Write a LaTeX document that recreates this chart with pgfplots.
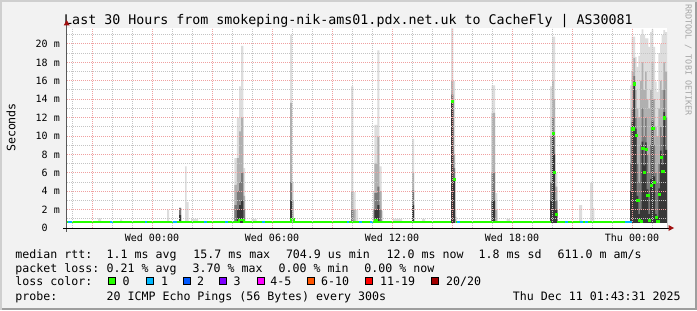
\documentclass[border=0pt]{standalone}
\usepackage{pgfplots}
\pgfplotsset{compat=1.18}
\usepackage{fontspec}
\setmainfont{DejaVu Sans Mono}
\setmonofont{DejaVu Sans Mono}
\definecolor{bgc}{HTML}{F2F2F2}
\definecolor{shadea}{HTML}{CFCFCF}
\definecolor{shadeb}{HTML}{9E9E9E}
\definecolor{mgrid}{HTML}{F0A0A0}
\definecolor{ngrid}{HTML}{C4C4C4}
\definecolor{arrowred}{HTML}{A01010}
\definecolor{sA}{HTML}{DDDDDD}
\definecolor{sB}{HTML}{B0B0B0}
\definecolor{sC}{HTML}{7A7A7A}
\definecolor{sD}{HTML}{383838}
\definecolor{lc0}{HTML}{26FF00}
\definecolor{lc1}{HTML}{00B8FF}
\definecolor{lc2}{HTML}{0059FF}
\definecolor{lc3}{HTML}{7E00FF}
\definecolor{lc4}{HTML}{FF00FF}
\definecolor{lc6}{HTML}{FF5500}
\definecolor{lc11}{HTML}{FF0000}
\definecolor{lc20}{HTML}{A10000}
\newcommand\fs[1]{\fontsize{#1bp}{#1bp}\selectfont}
\begin{document}
\frenchspacing
\begin{tikzpicture}[x=1bp,y=1bp]
\path[use as bounding box] (0,0) rectangle (697,310);
\fill[bgc] (0,0) rectangle (697,310);
\fill[shadea] (0,0) rectangle (2,310);
\fill[shadea] (0,308) rectangle (697,310);
\fill[shadeb] (695,0) rectangle (697,308);
\fill[shadeb] (2,0) rectangle (697,2);

\node[anchor=base, inner sep=0pt] at (348.5,286) {\fs{13.3}Last 30 Hours from smokeping-nik-ams01.pdx.net.uk to CacheFly | AS30081};

\begin{axis}[
  at={(67bp,82bp)}, anchor=south west, scale only axis,
  width=600bp, height=200bp,
  xmin=-4.25, xmax=25.75, ymin=0, ymax=21.739,
  axis background/.style={fill=white},
  axis line style={draw=none},
  tick style={draw=none},
  axis on top,
  grid=both,
  major grid style={mgrid, line width=1bp, dash pattern=on 1bp off 1bp},
  minor grid style={ngrid, line width=1bp, dash pattern=on 1bp off 1bp},
  xtick={-3,0,3,6,9,12,15,18,21,24},
  xticklabels={{},Wed 00:00,{},Wed 06:00,{},Wed 12:00,{},Wed 18:00,{},Thu 00:00},
  minor xtick={-4,-2,-1,1,2,4,5,7,8,10,11,13,14,16,17,19,20,22,23,25},
  ytick={0,2,4,6,8,10,12,14,16,18,20},
  yticklabels={0\hphantom{\ m},2 m,4 m,6 m,8 m,10 m,12 m,14 m,16 m,18 m,20 m},
  minor ytick={1,3,5,7,9,11,13,15,17,19,21},
  ticklabel style={font=\fs{10}},
  xticklabel style={anchor=base, inner sep=0pt, yshift=-13bp},
  yticklabel style={anchor=east, inner sep=0pt, xshift=-7bp},
]
% lightest smoke (max)
\addplot[const plot, fill=sA, draw=none] coordinates {
(-4.25,0)(-2.7,1.05)(-2.55,0)(-1.6,0.95)(-1.5,0)
(0.75,2.0)(0.85,0)(1.35,2.2)(1.45,0)(1.65,6.7)(1.73,2.8)(1.83,0)(1.95,1.0)(2.3,0)
(4.12,7.6)(4.24,12.0)(4.35,15.4)(4.45,19.8)(4.57,6.5)(4.65,0)(4.98,1.0)(5.23,0)
(6.9,21.0)(7.0,5.0)(7.08,0)
(9.95,15.4)(10.07,3.9)(10.18,2.0)(10.3,0)
(11.05,4.0)(11.12,11.2)(11.27,19.3)(11.37,6.7)(11.48,1.9)(11.55,0)
(12.05,1.0)(12.5,0)(13.0,9.7)(13.1,0)(13.5,1.0)(13.65,0)
(14.95,21.7)(15.07,16.0)(15.16,2.0)(15.22,0)
(16.98,15.5)(17.15,3.8)(17.27,0)(17.73,1.0)(17.9,0)
(19.9,15.4)(20.0,20.8)(20.08,20.8)(20.16,6.0)(20.27,0)
(21.35,2.5)(21.5,0)(21.9,4.9)(22.05,2.2)(22.12,0)
(23.900,15.5)(23.983,20.8)(24.067,20.8)(24.150,18.6)(24.233,17.5)(24.317,18.7)(24.400,21.0)(24.483,21.6)(24.567,21.0)(24.650,20.6)(24.733,20.6)(24.817,19.7)(24.900,21.3)(24.983,21.6)(25.067,19.7)(25.150,15.9)(25.233,14.8)(25.317,19.0)(25.400,20.0)(25.483,21.0)(25.567,21.5)(25.650,21.3)(25.75,0)
} \closedcycle;
% mid smoke
\addplot[const plot, fill=sB, draw=none] coordinates {
(-4.25,0)(1.35,2.2)(1.45,0)
(4.12,4.7)(4.24,7.6)(4.35,10.5)(4.45,12.0)(4.57,3.5)(4.65,0)
(6.9,13.6)(7.0,3.0)(7.08,0)
(9.95,4.0)(10.07,2.0)(10.18,0)
(11.05,2.0)(11.12,7.0)(11.27,9.9)(11.37,4.0)(11.48,0)
(13.0,6.0)(13.1,0)
(14.95,16.0)(15.07,8.0)(15.16,1.2)(15.22,0)
(16.98,12.5)(17.15,2.0)(17.27,0)
(19.9,10.0)(20.0,16.0)(20.08,14.0)(20.16,4.5)(20.27,0)
(23.900,11)(23.983,17)(24.067,18.5)(24.150,15)(24.233,13)(24.317,12)(24.400,16)(24.483,18)(24.567,15)(24.650,17)(24.733,14)(24.817,13)(24.900,15)(24.983,18)(25.067,14)(25.150,11)(25.233,10)(25.317,13)(25.400,16)(25.483,15)(25.567,18)(25.650,17)(25.75,0)
} \closedcycle;
% darker smoke
\addplot[const plot, fill=sC, draw=none] coordinates {
(-4.25,0)(1.35,2.2)(1.45,0)
(4.12,2.5)(4.24,4.0)(4.35,5.0)(4.45,6.0)(4.57,2.0)(4.65,0)
(6.9,5.0)(7.0,0)
(9.95,2.0)(10.07,0)
(11.12,3.8)(11.27,4.5)(11.37,2.0)(11.48,0)
(13.0,4.1)(13.1,0)
(14.95,14.5)(15.07,6.5)(15.16,0)
(16.98,6.0)(17.15,0)
(19.9,5.0)(20.0,12.0)(20.08,10.0)(20.16,3.0)(20.27,0)
(23.900,7)(23.983,13)(24.067,16.5)(24.150,12)(24.233,7)(24.317,5)(24.400,9)(24.483,13)(24.567,10)(24.650,12)(24.733,8)(24.817,6)(24.900,9)(24.983,14)(25.067,9)(25.150,6)(25.233,5)(25.317,7)(25.400,11)(25.483,10)(25.567,15)(25.650,12)(25.75,0)
} \closedcycle;
% darkest core
\addplot[const plot, fill=sD, draw=none] coordinates {
(-4.25,0)(1.35,1.4)(1.45,0)
(4.24,2.0)(4.35,2.5)(4.45,3.0)(4.57,0)
(6.9,3.0)(7.0,0)
(11.12,2.0)(11.27,2.5)(11.37,0)
(13.0,2.5)(13.1,0)
(14.95,13.8)(15.07,5.3)(15.16,0)
(16.98,3.0)(17.15,0)
(19.9,3.0)(20.0,10.3)(20.08,8.0)(20.16,2.0)(20.27,0)
(23.900,4)(23.983,11.5)(24.067,15.9)(24.150,10.8)(24.233,3.5)(24.317,1.5)(24.400,2.0)(24.483,9.4)(24.567,6.8)(24.650,9.3)(24.733,4.2)(24.817,1.5)(24.900,5.3)(24.983,11.6)(25.067,5.6)(25.150,1.5)(25.233,1.2)(25.317,4.3)(25.400,8.4)(25.483,6.9)(25.567,12.6)(25.650,8.5)(25.75,0)
} \closedcycle;
% blank below the minimum ping
\addplot[fill=white, draw=none] coordinates {(-4.25,0.57)(25.75,0.57)} \closedcycle;
% median line (0 loss)
\addplot[lc0, line width=2bp, const plot] coordinates {(-4.25,0.68)(4.35,0.88)(4.6,0.68)(6.95,1.0)(7.1,0.68)(11.15,0.85)(11.25,0.68)(14.95,0.68)};
\addplot[lc0, line width=2bp] coordinates {(15.2,0.68)(19.95,0.68)};
\addplot[lc0, line width=2bp] coordinates {(20.27,0.68)(23.65,0.68)};
% median (1 loss)
\addplot[lc1, line width=2bp, unbounded coords=jump] coordinates {
(-4.2,0.68)(-4.0,0.68)(-4.0,nan)(-2.1,0.68)(-1.95,0.68)(-1.95,nan)(-0.35,0.68)(-0.25,0.68)(-0.25,nan)
(1.05,0.68)(1.25,0.68)(1.25,nan)(2.6,0.68)(2.75,0.68)(2.75,nan)(3.65,0.68)(3.8,0.68)(3.8,nan)
(5.5,0.68)(5.65,0.68)(5.65,nan)(9.75,0.68)(9.85,0.68)(9.85,nan)(10.35,0.68)(10.5,0.68)(10.5,nan)
(10.9,0.68)(11.05,0.68)(11.05,nan)(15.25,0.68)(15.4,0.68)(15.4,nan)(20.65,0.68)(20.8,0.68)(20.8,nan)
(21.4,0.68)(21.55,0.68)(21.55,nan)(21.65,0.68)(21.8,0.68)(21.8,nan)(23.65,0.68)(24.0,0.68)};
% elevated medians
\addplot[lc0, only marks, mark=square*, mark size=1.1bp, mark options={draw=lc0, fill=lc0, line width=0.1bp}] coordinates {
(15.01,13.8)(15.11,5.3)(20.04,10.3)(20.12,6.1)(20.21,1.5)
(24.025,10.8)(24.108,15.7)(24.192,10.1)(24.275,3.0)(24.358,0.9)(24.442,0.75)(24.525,8.7)(24.608,6.1)(24.692,8.6)(24.775,3.6)(24.858,0.9)(24.942,4.7)(25.025,10.9)(25.108,5.0)(25.192,1.2)(25.275,0.75)(25.358,3.7)(25.442,7.7)(25.525,6.2)(25.608,12.0)};
\end{axis}

% axes with arrows
\draw[black!65, line width=1bp] (66.7,78.3) -- (66.7,285);
\fill[arrowred] (63.7,284.5) -- (69.7,284.5) -- (66.7,290) -- cycle;
\draw[black, line width=1bp] (63,82) -- (669,82);
\fill[arrowred] (668.5,79) -- (668.5,85) -- (674,82) -- cycle;

% axis title and credit
\node[rotate=90, inner sep=0pt] at (11,182.5) {\fs{11.6}Seconds};
\node[rotate=-90, inner sep=0pt, text=black!35] at (688.3,250) {\fs{8.4}RRDTOOL / TOBI OETIKER};

% legend
\begin{scope}[every node/.style={anchor=base west, inner sep=0pt, font=\fs{11.6}}]
\node at (15.3,52) {median rtt:};
\node at (106.5,52) {1.1 ms avg};
\node at (193.2,52) {15.7 ms max};
\node at (285.8,52) {704.9 us min};
\node at (386.5,52) {12.0 ms now};
\node at (478.5,52) {1.8 ms sd};
\node at (557.5,52) {611.0 m am/s};
\node at (15.3,38) {packet loss:};
\node at (106.5,38) {0.21 \% avg};
\node at (192.5,38) {3.70 \% max};
\node at (278.5,38) {0.00 \% min};
\node at (364.2,38) {0.00 \% now};
\node at (15.3,24.5) {loss color:};
\node at (122.3,24.5) {0};
\node at (160.9,24.5) {1};
\node at (196.8,24.5) {2};
\node at (233.4,24.5) {3};
\node at (270.1,24.5) {4-5};
\node at (320.9,24.5) {6-10};
\node at (379.9,24.5) {11-19};
\node at (445.9,24.5) {20/20};
\node at (15.3,10) {probe:};
\node at (106.5,10) {20 ICMP Echo Pings (56 Bytes) every 300s};
\node[anchor=base east] at (680.8,10) {Thu Dec 11 01:43:31 2025};
\end{scope}
\foreach \bx/\bc in {108.3/lc0,145.7/lc1,182.7/lc2,219.3/lc3,256.7/lc4,307.3/lc6,365.3/lc11,430.7/lc20}{
  \filldraw[fill=\bc, draw=black, line width=1bp] (\bx+0.5,25.3) rectangle ++(7,7);
}
\end{tikzpicture}
\end{document}
